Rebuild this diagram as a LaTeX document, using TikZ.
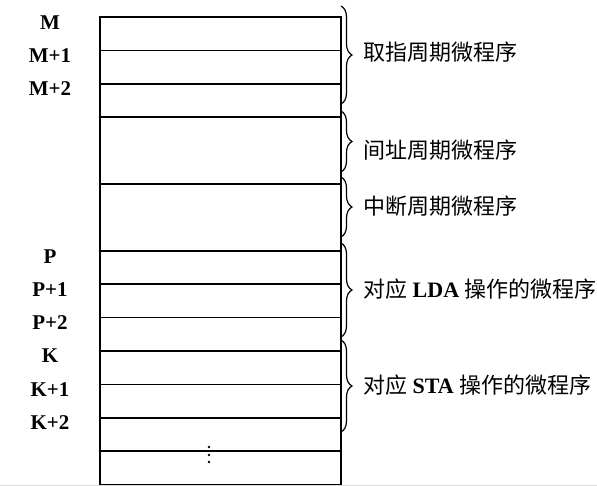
\documentclass[tikz,border=0pt]{standalone}
\usepackage{fontspec}
\setmainfont{Liberation Serif}
\newfontfamily\cjk{Noto Sans CJK SC}
\usetikzlibrary{decorations.pathreplacing}

\begin{document}
\begin{tikzpicture}
[x=1pt,y=-1pt,
  rowDecorate/.style={shape=rectangle,draw,line width=1.6pt,minimum width=241pt,inner sep=0pt},
  addrDecorate/.style={inner sep=0pt,font=\fontsize{21}{25}\selectfont\bfseries},
  braceDecorate/.style={decorate,decoration={brace,amplitude=11pt},line width=1.2pt},
  textDecorate/.style={anchor=west,inner sep=0pt,font=\fontsize{22}{26}\selectfont}]
\useasboundingbox (0,0) rectangle (597,486);
%% rows of the control memory
\foreach \rowname/\k/\h in {m/0/1, ma/1/1, mb/2/1, ind/3/2, int/5/2, p/7/1, pa/8/1,
    pb/9/1, k/10/1, ka/11/1, kb/12/1, rest/13/1} {
  \node (\rowname) at (220.5,{17+33.4*(\k+\h/2)}) [rowDecorate,minimum height={33.4pt*\h}] {};
}
%% addresses
\foreach \addrname/\addr/\y in {lm/M/23, lma/M+1/56, lmb/M+2/89, lp/P/257, lpa/P+1/290,
    lpb/P+2/323, lk/K/356, lka/K+1/390, lkb/K+2/423} {
  \node (\addrname) at (50,\y) [addrDecorate] {\addr};
}
%% more rows follow
\foreach \y in {447,455,462} {
  \fill (209,\y) circle (1.4pt);
}
%% braces and the microprograms they mark
\foreach \top/\bot in {6/104, 111/172, 177/237, 243/337, 340/432} {
  \draw[braceDecorate] (341,\top) -- (341,\bot);
}
\node (fetch) at (363,52) [textDecorate] {\cjk 取指周期微程序};
\node (indirect) at (363,150) [textDecorate] {\cjk 间址周期微程序};
\node (interrupt) at (363,206) [textDecorate] {\cjk 中断周期微程序};
\node (lda) at (363,289) [textDecorate] {{\cjk 对应} \textbf{LDA} {\cjk 操作的微程序}};
\node (sta) at (363,385) [textDecorate] {{\cjk 对应} \textbf{STA} {\cjk 操作的微程序}};
\draw[gray!30] (0,485) -- (597,485);
\end{tikzpicture}
\end{document}
